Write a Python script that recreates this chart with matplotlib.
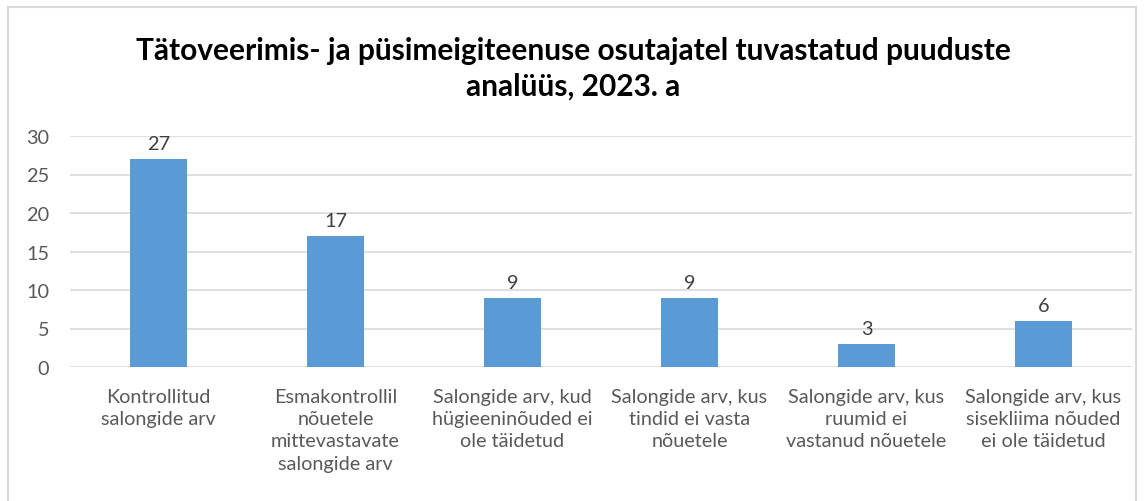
import matplotlib
matplotlib.use("Agg")
import matplotlib.pyplot as plt
from matplotlib.patches import Rectangle

categories = [
    "Kontrollitud\nsalongide arv",
    "Esmakontrollil\nnõuetele\nmittevastavate\nsalongide arv",
    "Salongide arv, kud\nhügieeninõuded ei\nole täidetud",
    "Salongide arv, kus\ntindid ei vasta\nnõuetele",
    "Salongide arv, kus\nruumid ei\nvastanud nõuetele",
    "Salongide arv, kus\nsisekliima nõuded\nei ole täidetud",
]
values = [27, 17, 9, 9, 3, 6]
yticks = [0, 5, 10, 15, 20, 25, 30]
title = "Tätoveerimis- ja püsimeigiteenuse osutajatel tuvastatud puuduste\nanalüüs, 2023. a"

plt.rcParams['font.family'] = ['Lato', 'DejaVu Sans']
W, H = 1147, 502
fig = plt.figure(figsize=(W/100, H/100), dpi=100)
fig.patch.set_facecolor('white')

# chart border
fig.patches.append(Rectangle((8/W, -0.01), (1136-8)/W, (H-8)/H + 0.01, transform=fig.transFigure,
                             fill=False, edgecolor='#d9d9d9', linewidth=1.5))

ax = fig.add_axes([70/W, (H-368)/H, (1132-70)/W, (368-137)/H])
x = list(range(len(values)))
bars = ax.bar(x, values, width=0.32, color='#5B9BD5', zorder=3)
ax.set_xlim(-0.5, len(values)-0.5)
ax.set_ylim(0, 30)
ax.set_yticks(yticks)
ax.set_xticks(x)
ax.set_xticklabels(categories, fontsize=14.5, color='#595959', linespacing=1.38)
ax.tick_params(axis='both', length=0, labelsize=14.3, colors='#595959')
ax.tick_params(axis='y', pad=15)
ax.tick_params(axis='x', pad=15)
for s in ax.spines.values():
    s.set_visible(False)
ax.grid(axis='y', color='#d9d9d9', linewidth=1.2, zorder=0)
ax.set_axisbelow(True)
for b, v in zip(bars, values):
    ax.annotate(str(v), (b.get_x()+b.get_width()/2, v), xytext=(0, 5), textcoords='offset points',
                ha='center', va='bottom', fontsize=14.3, color='#404040')

fig.text(0.5, (H-69)/H, title, ha='center', va='center', fontsize=21.5, fontweight='bold',
         color='#000000', linespacing=1.35)

fig.savefig('out.png', dpi=100)
